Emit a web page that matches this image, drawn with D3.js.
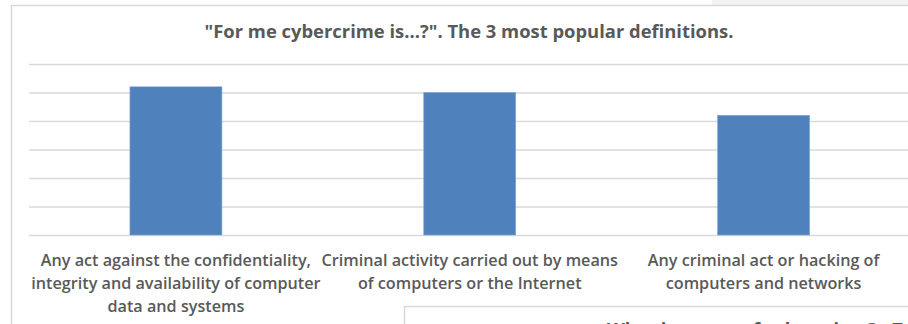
<html>
<head>
  <title>Cybercrime definitions</title>
  <script src="https://cdn.jsdelivr.net/npm/d3@7"></script>
  <style>
    body { margin: 0; background: #fff; }
    svg text { font-family: "Open Sans", "Noto Sans", sans-serif; fill: #595959; }
  </style>
</head>
<body>
<div id="chart"></div>
<script>
// data (one gridline = 5)
var categories = ["def1", "def2", "def3"];
var labelLines = [
  ["Any act against the confidentiality,", "integrity and availability of computer", "data and systems"],
  ["Criminal activity carried out by means", "of computers or the Internet"],
  ["Any criminal act or hacking of", "computers and networks"]
];
var values = [26, 25, 21];
var yTicks = [0, 5, 10, 15, 20, 25, 30];
var title = "\"For me cybercrime is...?\". The 3 most popular definitions.";
var nextTitle = "What is an act of cybercrime? - Top 3 answers";

var W = 908, H = 324;
var svg = d3.select("#chart").append("svg")
  .attr("width", W).attr("height", H);

// faint bits of whatever sits behind, top right
svg.append("rect").attr("x", 712).attr("y", 0).attr("width", 196).attr("height", 5)
  .attr("fill", "#f2f2f2");

// chart frame (runs past the window on the right and bottom)
svg.append("rect")
  .attr("x", 11.5).attr("y", 5.5)
  .attr("width", 930).attr("height", 340)
  .attr("fill", "#fff")
  .attr("stroke", "#d9d9d9").attr("stroke-width", 1.5);

svg.append("text")
  .attr("x", 469).attr("y", 38)
  .attr("text-anchor", "middle")
  .attr("font-size", "18.4px")
  .attr("font-weight", "bold")
  .text(title);

var x = d3.scaleBand()
  .domain(categories)
  .range([29, 910.5])
  .paddingInner(0.687)
  .paddingOuter(0.687 / 2);

var y = d3.scaleLinear()
  .domain([0, 30])
  .range([235, 64]);

// gridlines
var grid = svg.append("g")
  .attr("transform", "translate(29,0)")
  .call(d3.axisLeft(y).tickValues(yTicks).tickSize(-(910.5 - 29)).tickFormat(""));
grid.select(".domain").remove();
grid.selectAll(".tick line").attr("stroke", "#d9d9d9").attr("stroke-width", 1.3);

svg.selectAll("rect.bar")
  .data(values)
  .enter()
  .append("rect")
  .attr("class", "bar")
  .attr("x", function(d, i) { return x(categories[i]); })
  .attr("y", function(d) { return y(d); })
  .attr("width", x.bandwidth())
  .attr("height", function(d) { return y(0) - y(d); })
  .attr("fill", "#4f81bd")
  .attr("stroke", "#7ea6d6")
  .attr("stroke-width", 0.6);

// category labels
var xAxis = svg.append("g")
  .attr("transform", "translate(0," + y(0) + ")")
  .call(d3.axisBottom(x).tickSize(0).tickFormat(""));
xAxis.select(".domain").remove();
xAxis.selectAll(".tick text").remove();
xAxis.selectAll(".tick").each(function(c, i) {
  var t = d3.select(this).append("text")
    .attr("text-anchor", "middle")
    .attr("font-size", "16.2px")
    .attr("font-weight", 600)
    .attr("y", 31);
  labelLines[i].forEach(function(line, j) {
    t.append("tspan").attr("x", 0).attr("dy", j == 0 ? 0 : 22.8).text(line);
  });
});

// the next chart, overlapping at the bottom
svg.append("rect")
  .attr("x", 404.5).attr("y", 306.5)
  .attr("width", 600).attr("height", 60)
  .attr("fill", "#fff")
  .attr("stroke", "#d9d9d9").attr("stroke-width", 1.5);
svg.append("text")
  .attr("x", 607).attr("y", 336)
  .attr("font-size", "18.4px")
  .attr("font-weight", "bold")
  .text(nextTitle);
</script>
</body>
</html>
